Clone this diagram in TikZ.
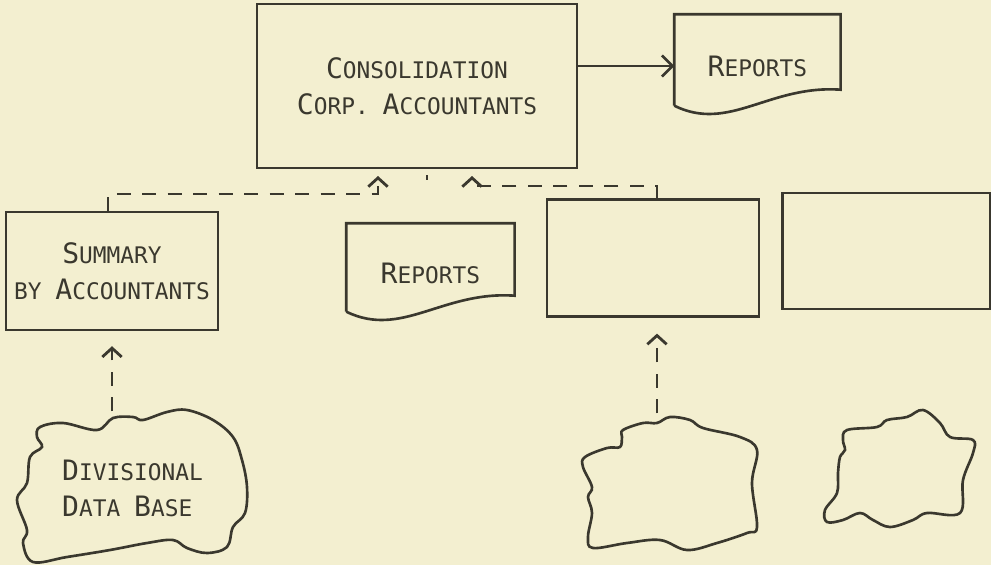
\documentclass[tikz,border=0pt]{standalone}
\usepackage{fontspec}
\newfontfamily\letterfont{DejaVu Sans Mono}
\usepackage{tikz}
\usetikzlibrary{positioning,calc,arrows.meta}

\definecolor{paper}{RGB}{243,239,208}
\definecolor{ink}{RGB}{58,56,46}

% big first letter, rest as small capitals
\newcommand{\capit}[2]{{\fontsize{16pt}{20.5pt}\selectfont #1}#2}
% page with a wavy lower edge round a named node
\newcommand{\docoutline}[1]{%
  \draw[ink, line width=1.5pt] ($(#1.south west)+(0,-12)$) -- (#1.north west) -- (#1.north east)
    -- ($(#1.south east)+(0,-28)$)
    .. controls ($(#1.south west)!0.57!(#1.south east)+(0,-33)$) and ($(#1.south west)!0.33!(#1.south east)+(0,15)$)
    .. ($(#1.south west)+(0,-12)$);}

\begin{document}
\begin{tikzpicture} [x=0.02cm, y=-0.02cm, thick,
                    txt/.style={font=\letterfont\fontsize{13pt}{20.5pt}\selectfont, text=ink},
                    box/.style={rectangle, draw=ink, line width=1.5pt, inner sep=0pt, align=center, txt},
                    docu/.style={rectangle, inner sep=0pt, align=center, txt},
                    blob/.style={rectangle, inner sep=0pt, align=left, txt},
                    flow/.style={draw=ink, line width=1.6pt, dash pattern=on 8pt off 6.5pt,
                                 -{Straight Barb[length=5pt,width=11pt]}}]

\fill[paper] (0,0) rectangle (991,565);
\useasboundingbox (0,0) rectangle (991,565);

\node[box, minimum width=6.4cm, minimum height=3.28cm] (cons) at (417,86)
    {\capit{C}{ONSOLIDATION}\\ \capit{C}{ORP.} \capit{A}{CCOUNTANTS}};
\node[docu, minimum width=3.3cm, minimum height=2.04cm] (rep1) [right=1.92cm of cons, yshift=0.4cm]
    {\capit{R}{EPORTS}};
\node[box, minimum width=4.24cm, minimum height=2.36cm] (summary) at (112,271)
    {\capit{S}{UMMARY}\\ BY \capit{A}{CCOUNTANTS}};
\node[docu, minimum width=3.34cm, minimum height=1.98cm] (rep2) [right=2.54cm of summary, yshift=-0.05cm]
    {\capit{R}{EPORTS}};
\node[box, minimum width=4.24cm, minimum height=2.34cm] (box1) [right=0.62cm of rep2, yshift=0.31cm] {};
\node[box, minimum width=4.16cm, minimum height=2.32cm] (box2) [right=0.42cm of box1, yshift=0.14cm] {};
\node[blob, minimum width=4.7cm, minimum height=3.06cm] (c1) [below=1.6cm of summary, xshift=0.41cm]
    {\capit{D}{IVISIONAL}\\ \capit{D}{ATA} \capit{B}{ASE}};
\node[blob, minimum width=3.54cm, minimum height=2.8cm] (c2) [below=1.91cm of box1, xshift=0.39cm] {};
\node[blob, minimum width=3.08cm, minimum height=2.42cm] (c3) [below=1.96cm of box2, xshift=0.38cm] {};

\docoutline{rep1}
\docoutline{rep2}

% data bases
\draw[ink, line width=1.5pt] plot[smooth cycle, tension=0.6] coordinates {
    (40,427) (63,423) (97,430) (113,418) (133,417) (143,420) (167,412) (187,410)
    (213,420) (233,437) (242,460) (247,487) (245,513) (233,527) (227,547) (207,553)
    (187,548) (173,540) (147,543) (110,550) (67,557) (33,562) (23,543) (27,530)
    (17,500) (27,483) (30,457) (42,447) (37,437)};
\draw[ink, line width=1.5pt] plot[smooth cycle, tension=0.6] coordinates {
    (623,430) (643,423) (657,423) (670,417) (690,420) (703,428) (740,437) (757,450)
    (752,483) (757,527) (747,533) (717,543) (687,550) (660,540) (627,543) (593,548)
    (588,537) (592,513) (588,497) (592,487) (583,467) (585,457) (607,448) (620,447) (622,437)};
\draw[ink, line width=1.5pt] plot[smooth cycle, tension=0.6] coordinates {
    (847,430) (877,427) (887,420) (907,417) (923,410) (940,423) (950,437) (973,440)
    (973,453) (963,480) (960,513) (927,513) (913,520) (890,527) (873,520) (860,513)
    (843,520) (827,522) (825,510) (837,493) (838,473) (840,457) (845,450) (843,440)};

\coordinate (j1) at (108,194);
\coordinate (a1) at (378,176);
\coordinate (j2) at (657,186);
\coordinate (a2) at (472,176);

\draw[ink, line width=1.5pt, -{Straight Barb[length=6pt,width=12pt]}] (cons.east |- rep1.west) -- (rep1.west);
\draw[flow] (j1 |- summary.north) -- (j1) -| (a1);
\draw[flow] (j2 |- box1.north) -- (j2) -| (a2);
\draw[flow, shorten >=8.5pt] (summary.south |- c1.north) -- (summary.south);
\draw[flow, shorten >=9pt] (j2 |- c2.north) -- (j2 |- box1.south);
\draw[ink, line width=0.8pt] (427,175) -- (427,180);
\end{tikzpicture}
\end{document}
